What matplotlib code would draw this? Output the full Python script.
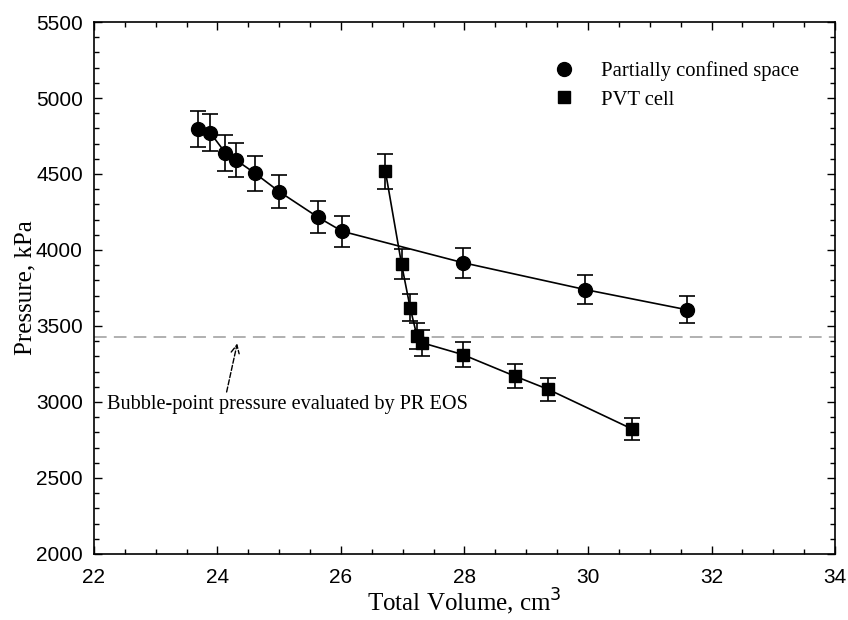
import matplotlib.pyplot as plt
from matplotlib.ticker import MultipleLocator
from matplotlib.lines import Line2D

# partially confined space (circles)
vol_pcs = [23.68, 23.88, 24.13, 24.30, 24.61, 25.00, 25.63, 26.02, 27.97, 29.95, 31.60]
p_pcs = [4795, 4773, 4638, 4592, 4504, 4384, 4215, 4123, 3917, 3740, 3607]
err_pcs = [120, 119, 116, 115, 113, 110, 105, 103, 98, 94, 90]

# PVT cell (squares)
vol_pvt = [26.72, 26.98, 27.12, 27.23, 27.31, 27.97, 28.81, 29.35, 30.72]
p_pvt = [4517, 3909, 3620, 3434, 3390, 3312, 3171, 3084, 2821]
err_pvt = [113, 98, 90, 86, 85, 83, 79, 77, 71]

p_bubble = 3430

serif = 'Liberation Serif'
sans = 'Liberation Sans'

fig = plt.figure(figsize=(8.48, 6.2), dpi=100)
ax = fig.add_axes([0.1108, 0.1065, 0.8739, 0.858])

ax.axhline(p_bubble, color='#aaaaaa', lw=1.3, dashes=(7, 4), zorder=1)

ax.errorbar(vol_pcs, p_pcs, yerr=err_pcs, fmt='-o', color='black', ms=10,
            lw=1.2, elinewidth=1.2, capsize=6, capthick=1.2, zorder=3)
ax.errorbar(vol_pvt, p_pvt, yerr=err_pvt, fmt='-s', color='black', ms=9,
            lw=1.2, elinewidth=1.2, capsize=6, capthick=1.2, zorder=3)

ax.annotate('Bubble-point pressure evaluated by PR EOS',
            xy=(24.32, 3385), xytext=(22.21, 2985),
            fontsize=14.6, family=serif, va='center', ha='left',
            arrowprops=dict(arrowstyle='->', color='black', lw=1.0,
                            linestyle='--', shrinkA=0, shrinkB=0,
                            relpos=(0.33, 1.0)))

ax.set_xlim(22, 34)
ax.set_ylim(2000, 5500)
ax.xaxis.set_major_locator(MultipleLocator(2))
ax.xaxis.set_minor_locator(MultipleLocator(0.5))
ax.yaxis.set_major_locator(MultipleLocator(500))
ax.yaxis.set_minor_locator(MultipleLocator(100))
ax.tick_params(which='both', direction='in', top=True, right=True, width=1.0)
ax.tick_params(which='major', length=6, labelsize=15)
ax.tick_params(axis='y', which='major', pad=8)
ax.tick_params(axis='x', which='major', pad=10)
ax.tick_params(which='minor', length=3.5)
for lab in ax.get_xticklabels() + ax.get_yticklabels():
    lab.set_family(sans)
for s in ax.spines.values():
    s.set_linewidth(1.2)

ax.set_xlabel('Total Volume, cm$^3$', fontsize=18, family=serif, labelpad=0)
ax.set_ylabel('Pressure, kPa', fontsize=18, family=serif, labelpad=0)

handles = [Line2D([], [], ls='none', marker='o', color='black', ms=10),
           Line2D([], [], ls='none', marker='s', color='black', ms=8)]
ax.legend(handles, ['Partially confined space', 'PVT cell'],
          loc='upper left', bbox_to_anchor=(0.595, 0.962), frameon=False,
          prop={'family': serif, 'size': 14.9}, handlelength=1.0,
          handletextpad=1.3, labelspacing=0.45, numpoints=1)

fig.savefig('out.png', dpi=100)
